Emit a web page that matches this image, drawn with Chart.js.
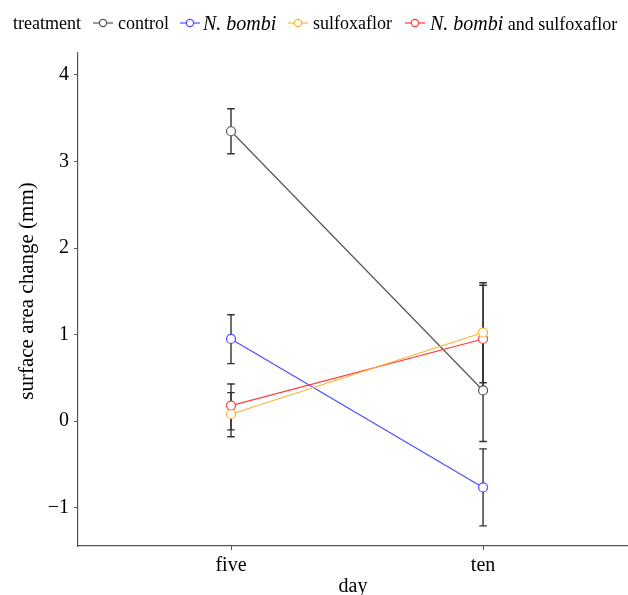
<!DOCTYPE html>
<html><head><meta charset="utf-8">
<script src="https://cdn.jsdelivr.net/npm/chart.js@4/dist/chart.umd.min.js"></script>
<style>
html,body{margin:0;padding:0;background:#fff;}
#wrap{position:relative;width:628px;height:595px;overflow:hidden;background:#fff;}
#c{position:absolute;left:0;top:0;}
.lg{position:absolute;top:12px;font-size:18px;font-family:'Liberation Serif','Times New Roman',serif;color:#000;white-space:nowrap;line-height:22px;}
.lg i{font-size:20px;}
.sym{position:absolute;top:12px;width:20px;height:22px;}
</style></head><body>
<div id="wrap">
<canvas id="c" width="628" height="595"></canvas>
<div id="legend"></div>
</div>
<script>
// ---- data ----
const days = ['five', 'ten'];
const seriesNames = ['control', 'N. bombi', 'sulfoxaflor', 'N. bombi and sulfoxaflor'];
const control = [3.35, 0.355];
const nbombi = [0.95, -0.765];
const sulfox = [0.08, 1.025];
const both = [0.18, 0.95];
const controlLow = [3.09, -0.235];
const controlHigh = [3.61, 0.945];
const nbombiLow = [0.665, -1.21];
const nbombiHigh = [1.23, -0.32];
const sulfoxLow = [-0.18, 0.445];
const sulfoxHigh = [0.33, 1.60];
const bothLow = [-0.10, 0.33];
const bothHigh = [0.43, 1.57];
const yTicks = [-1, 0, 1, 2, 3, 4];
const yTitle = 'surface area change (mm)';
const xTitle = 'day';

// ---- styles ----
const colors = ['#555555', '#4d4dff', '#ffb233', '#ff3b3b'];
const FONT = "'Liberation Serif','Times New Roman',serif";

const values = [control, nbombi, sulfox, both];
const errSets = [[controlLow, controlHigh], [nbombiLow, nbombiHigh], [sulfoxLow, sulfoxHigh], [bothLow, bothHigh]];
const drawOrder = [4, 3, 1, 2];

const datasets = values.map((vals, k) => ({
  label: seriesNames[k],
  data: vals.map((v, i) => ({ x: i, y: v })),
  borderColor: colors[k],
  backgroundColor: colors[k],
  borderWidth: 1.2,
  pointRadius: 4.5,
  pointBorderWidth: 1.2,
  pointBackgroundColor: '#ffffff',
  pointBorderColor: colors[k],
  tension: 0,
  order: drawOrder[k]
}));

const errPlugin = {
  id: 'errbars',
  beforeDatasetsDraw(chart) {
    const { ctx, scales: { x, y } } = chart;
    ctx.save();
    ctx.strokeStyle = '#333333';
    ctx.lineWidth = 1.4;
    errSets.forEach(([lo, hi]) => {
      lo.forEach((l, i) => {
        const px = x.getPixelForValue(i);
        const y1 = y.getPixelForValue(l);
        const y2 = y.getPixelForValue(hi[i]);
        ctx.beginPath();
        ctx.moveTo(px, y1); ctx.lineTo(px, y2);
        ctx.moveTo(px - 3.8, y1); ctx.lineTo(px + 3.8, y1);
        ctx.moveTo(px - 3.8, y2); ctx.lineTo(px + 3.8, y2);
        ctx.stroke();
      });
    });
    ctx.restore();
  }
};

const yTitlePlugin = {
  id: 'ytitle',
  afterDraw(chart) {
    const { ctx } = chart;
    ctx.save();
    ctx.translate(27, 291);
    ctx.rotate(-Math.PI / 2);
    ctx.font = `21px ${FONT}`;
    ctx.fillStyle = '#000';
    ctx.textAlign = 'center';
    ctx.textBaseline = 'middle';
    ctx.fillText(yTitle, 0, 0);
    ctx.restore();
  }
};

new Chart(document.getElementById('c'), {
  type: 'line',
  data: { datasets },
  plugins: [errPlugin, yTitlePlugin],
  options: {
    responsive: false,
    animation: false,
    layout: { autoPadding: false, padding: { top: 53, left: 0, right: 0, bottom: 0 } },
    plugins: { legend: { display: false }, tooltip: { enabled: false } },
    scales: {
      x: {
        type: 'linear',
        min: -0.607,
        max: 1.575,
        afterBuildTicks: s => { s.ticks = days.map((d, i) => ({ value: i })); },
        afterFit: s => { s.height = 49; },
        ticks: {
          callback: v => days[v] !== undefined ? days[v] : '',
          font: { family: FONT, size: 20 },
          color: '#000',
          padding: 4,
          maxRotation: 0
        },
        grid: { drawOnChartArea: false, drawTicks: true, tickLength: 4, color: '#555', lineWidth: 1 },
        border: { display: true, color: '#555', width: 1.2 },
        title: { display: true, text: xTitle, font: { family: FONT, size: 20 }, color: '#000', padding: { top: 0, bottom: -4 } }
      },
      y: {
        min: -1.442,
        max: 4.254,
        afterBuildTicks: s => { s.ticks = yTicks.map(v => ({ value: v })); },
        afterFit: s => { s.width = 78; },
        ticks: {
          callback: v => String(v).replace('-', '\u2212'),
          font: { family: FONT, size: 20 },
          color: '#000',
          padding: 5
        },
        grid: { drawOnChartArea: false, drawTicks: true, tickLength: 4, color: '#555', lineWidth: 1 },
        border: { display: true, color: '#555', width: 1.2 },
        title: { display: false }
      }
    }
  }
});

// ---- legend (HTML, real text) ----
const legend = document.getElementById('legend');
function sym(left, color) {
  return `<svg class="sym" style="left:${left}px" width="20" height="22"><line x1="0" y1="11" x2="20" y2="11" stroke="${color}" stroke-width="1.2"/><circle cx="10" cy="11" r="3.6" fill="#fff" stroke="${color}" stroke-width="1.2"/></svg>`;
}
legend.innerHTML =
  `<span class="lg" style="left:13px">treatment</span>` +
  sym(93, colors[0]) + `<span class="lg" style="left:118px">${seriesNames[0]}</span>` +
  sym(180, colors[1]) + `<span class="lg" style="left:203px"><i>${seriesNames[1]}</i></span>` +
  sym(288, colors[2]) + `<span class="lg" style="left:313px">${seriesNames[2]}</span>` +
  sym(405, colors[3]) + `<span class="lg" style="left:430px"><i>N. bombi</i> and sulfoxaflor</span>`;
</script>
</body></html>
